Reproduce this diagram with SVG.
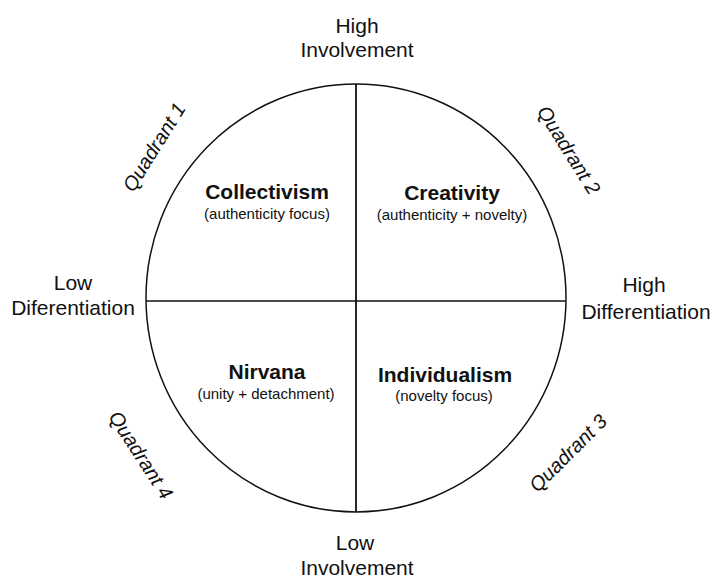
<svg xmlns="http://www.w3.org/2000/svg" width="713" height="579" viewBox="0 0 713 579">
<style>
text{font-family:"Liberation Sans",Arial,sans-serif;fill:#111;text-anchor:middle}
.ax{font-size:21px}
.q{font-size:20px;font-style:italic}
.t{font-size:21px;font-weight:bold}
.s{font-size:15px}
.ln{stroke:#111;fill:none}
</style>
<rect width="713" height="579" fill="#fff"/>
<g id="circle"><ellipse class="ln" cx="356" cy="298" rx="210" ry="214" stroke-width="1.5"/></g>
<g id="connectors">
<line class="ln" x1="356" y1="84" x2="356" y2="512" stroke-width="1.8"/>
<line class="ln" x1="146" y1="301" x2="566" y2="301" stroke-width="1.6"/>
</g>
<g id="high-involvement"><text class="ax" x="357" y="33">High</text><text class="ax" x="357" y="57">Involvement</text></g>
<g id="low-involvement"><text class="ax" x="355" y="550">Low</text><text class="ax" x="357" y="575">Involvement</text></g>
<g id="low-differentiation"><text class="ax" x="73" y="290">Low</text><text class="ax" x="73" y="315">Diferentiation</text></g>
<g id="high-differentiation"><text class="ax" x="644" y="292">High</text><text class="ax" x="646" y="319">Differentiation</text></g>
<g id="quadrant1"><text class="q" transform="translate(154,147) rotate(-58)" y="7">Quadrant 1</text></g>
<g id="quadrant2"><text class="q" transform="translate(569,150) rotate(58)" y="7">Quadrant 2</text></g>
<g id="quadrant3"><text class="q" transform="translate(568,453) rotate(-45)" y="7">Quadrant 3</text></g>
<g id="quadrant4"><text class="q" transform="translate(141,455) rotate(57)" y="7">Quadrant 4</text></g>
<g id="collectivism"><text class="t" x="267" y="199">Collectivism</text><text class="s" x="267" y="219">(authenticity focus)</text></g>
<g id="creativity"><text class="t" x="452" y="200">Creativity</text><text class="s" x="452" y="220">(authenticity + novelty)</text></g>
<g id="nirvana"><text class="t" x="267" y="379">Nirvana</text><text class="s" x="266" y="399">(unity + detachment)</text></g>
<g id="individualism"><text class="t" x="445" y="382">Individualism</text><text class="s" x="444" y="401">(novelty focus)</text></g>
</svg>
